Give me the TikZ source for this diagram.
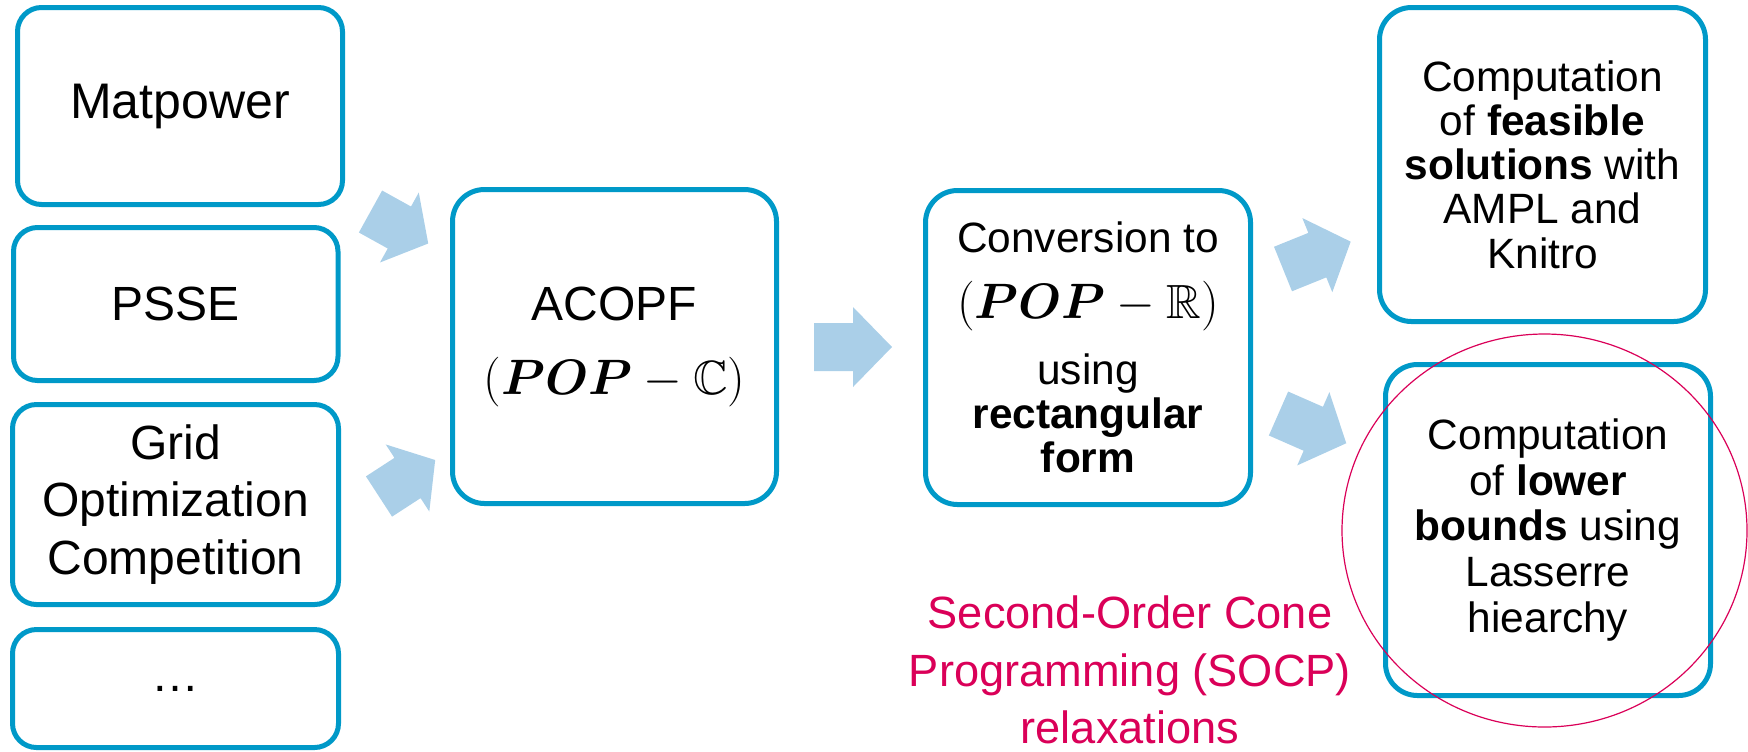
\documentclass[tikz,border=0pt]{standalone}
\usepackage{fontspec}
\setmainfont{Liberation Sans}
\usepackage{amsmath,amssymb,bm}
\definecolor{boxblue}{RGB}{0,153,200}
\definecolor{arrowblue}{RGB}{170,207,232}
\definecolor{socpred}{RGB}{218,0,88}
% block arrow: tail coordinate, direction angle, total length, head length (units: px)
\newcommand\blockarrow[4]{%
  \fill[arrowblue,shift={(#1)},rotate=#2]
    (0,-24) -- ({#3-#4},-24) -- ({#3-#4},-40) -- (#3,0)
    -- ({#3-#4},40) -- ({#3-#4},24) -- (0,24) -- cycle;}
\begin{document}
\begin{tikzpicture}[x=0.5pt,y=-0.5pt,
  box/.style={draw=boxblue,line width=2.5pt,align=center,inner sep=0pt},
  srcbox/.style={box,rounded corners=12pt,font=\fontsize{24pt}{28.75pt}\selectfont},
  bigbox/.style={box,rounded corners=16pt,minimum width=162.5pt,minimum height=157pt},
  midfont/.style={font=\fontsize{21.2pt}{22.1pt}\selectfont}]
\useasboundingbox (0,0) rectangle (1748,751);

% connectors (block arrows)
\coordinate (mp-out) at (370.5,211.5);
\coordinate (go-out) at (379,496.5);
\coordinate (ac-out) at (814,347);
\coordinate (cv-up)  at (1283,269);
\coordinate (cv-dn)  at (1278.5,413.5);
\blockarrow{mp-out}{-29}{66}{33}
\blockarrow{go-out}{33}{67}{33}
\blockarrow{ac-out}{0}{78}{39}
\blockarrow{cv-up}{22}{73}{36}
\blockarrow{cv-dn}{-23.7}{74}{36}

% data sources
\node[srcbox,minimum width=162.5pt,minimum height=98.5pt,font=\fontsize{25pt}{30pt}\selectfont]
  (matpower) at (180,106) {Matpower};
\node[srcbox,minimum width=162.25pt,minimum height=76.5pt] (psse) at (175.75,304) {PSSE};
\node[srcbox,minimum width=163pt,minimum height=100pt] (goc) at (175.5,504.5)
  {Grid\\Optimization\\Competition};
\node[srcbox,minimum width=163pt,minimum height=59pt] (more) at (175.5,688.5) {…};

% problem formulations
\node[bigbox,minimum width=162pt,font=\fontsize{24pt}{37pt}\selectfont]
  (acopf) at (614.5,346.5) {ACOPF\\$(\bm{POP}-\mathbb{C})$};
\node[bigbox,midfont] (conv) at (1088,347.5)
  {Conversion to\\[11pt]{\fontsize{24pt}{24pt}\selectfont$(\bm{POP}-\mathbb{R})$}\\[10.5pt]using\\\textbf{rectangular}\\\textbf{form}};

% computations
\node[bigbox,minimum width=163pt,midfont] (feas) at (1542.5,164.5)
  {Computation\\of \textbf{feasible}\\\textbf{solutions} with\\AMPL and\\Knitro};
\node[bigbox,minimum height=165.5pt,font=\fontsize{21.2pt}{22.9pt}\selectfont] (lower) at (1548,530)
  {Computation\\of \textbf{lower}\\\textbf{bounds} using\\Lasserre\\hiearchy};

% relaxation note
\draw[socpred,line width=0.6pt] (1544.5,530.5) ellipse [x radius=202.5,y radius=196.5];
\node[align=center,text=socpred,inner sep=0pt,font=\fontsize{22.6pt}{28.6pt}\selectfont]
  (socp) at (1130,670) {Second-Order Cone\\Programming (SOCP)\\relaxations};
\end{tikzpicture}
\end{document}
